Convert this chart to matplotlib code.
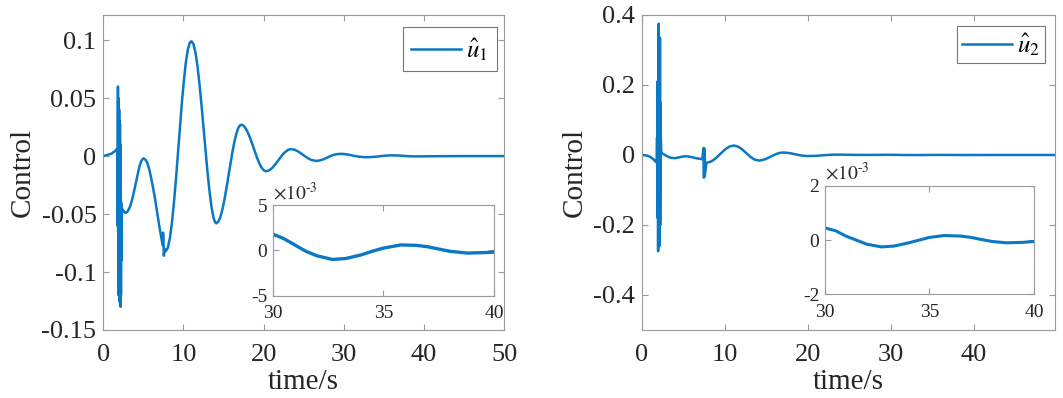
import numpy as np
import matplotlib
matplotlib.use('Agg')
import matplotlib.pyplot as plt

plt.rcParams['font.family'] = ['Liberation Serif', 'DejaVu Serif']
plt.rcParams['mathtext.fontset'] = 'stix'
plt.rcParams['axes.unicode_minus'] = False

line_color = '#0a78c2'
edge_color = '#9a9a9a'
text_color = '#262626'

# ---- control u1 ----
t1_pre = [0.0, 0.5, 1.0, 1.4, 1.7]
u1_pre = [0.0, 0.001, 0.002, 0.004, 0.006]
t1_spike = [1.750, 1.775, 1.800, 1.825, 1.850, 1.875, 1.900, 1.925, 1.950, 1.975, 2.000, 2.025,
            2.050, 2.075, 2.100, 2.125, 2.150, 2.175, 2.200, 2.225, 2.250, 2.275, 2.300]
u1_spike = [0.006, -0.060, 0.006, 0.060, -0.065, 0.050, -0.120, 0.045, -0.100, 0.040, -0.125, 0.030,
            -0.110, 0.028, -0.128, 0.010, -0.130, -0.020, -0.120, -0.040, -0.090, -0.045, -0.050]
t1_post = [2.4, 2.6, 2.8, 3.0, 3.25, 3.5, 3.75, 4.0, 4.25, 4.5, 4.75, 5.0, 5.25, 5.5, 5.75,
           6.0, 6.25, 6.5, 6.75, 7.0, 7.25, 7.4, 7.45, 7.5, 7.55, 7.65, 7.8,
           8.05, 8.3, 8.55, 8.8, 9.05, 9.3, 9.55, 9.8, 10.05, 10.3, 10.55, 10.8, 11.0,
           11.25, 11.5, 11.75, 12.0, 12.25, 12.5, 12.75, 13.0, 13.25, 13.5, 13.75, 13.95, 14.1,
           14.35, 14.6, 14.85, 15.1, 15.35, 15.6, 15.85, 16.1, 16.35, 16.6, 16.85, 17.05, 17.2,
           17.45, 17.7, 17.95, 18.2, 18.45, 18.7, 18.95, 19.2, 19.45, 19.7, 19.95, 20.15, 20.3,
           20.55, 20.8, 21.05, 21.3, 21.55, 21.8, 22.05, 22.3, 22.55, 22.8, 23.05, 23.4,
           23.9, 24.4, 24.9, 25.4, 25.9, 26.5, 27.0, 27.5, 28.0, 28.5, 29.0, 29.5,
           30.0, 30.5, 31.0, 31.5, 32.0, 32.7, 33.3, 34.0, 34.5, 35.0, 35.8, 36.5, 37.0,
           37.5, 38.0, 38.8, 39.5, 40.0, 42.0, 45.0, 50.0]
u1_post = [-0.046, -0.048, -0.049, -0.048, -0.045, -0.040, -0.033, -0.025, -0.017, -0.009,
           -0.004, -0.002, -0.003, -0.006, -0.012, -0.020, -0.029, -0.039, -0.050, -0.061,
           -0.071, -0.077, -0.066, -0.072, -0.086, -0.080, -0.082,
           -0.079, -0.071, -0.058, -0.041, -0.021, 0.001, 0.024, 0.046, 0.065, 0.081, 0.092,
           0.098, 0.099,
           0.0965, 0.0891, 0.0774, 0.0620, 0.0440, 0.0244, 0.0047, -0.0140, -0.0306, -0.0440,
           -0.0531, -0.0571, -0.058,
           -0.0566, -0.0526, -0.0463, -0.0380, -0.0282, -0.0176, -0.0070, 0.0032, 0.0122,
           0.0194, 0.0244, 0.0265, 0.027,
           0.0264, 0.0245, 0.0215, 0.0176, 0.0130, 0.0080, 0.0030, -0.0018, -0.0060, -0.0094,
           -0.0118, -0.0128, -0.013,
           -0.0127, -0.0118, -0.0104, -0.0085, -0.0063, -0.0040, -0.0016, 0.0007, 0.0027,
           0.0041, 0.0054, 0.006,
           0.0054, 0.0036, 0.0012, -0.0013, -0.0032, -0.0042, -0.0038, -0.0027, -0.0011,
           0.0005, 0.0015, 0.0019,
           0.0018, 0.0013, 0.0006, -0.0001, -0.0006, -0.0010, -0.0009, -0.0005, -0.0001,
           0.00025, 0.0006, 0.00055, 0.0004, 0.00015, -0.0001, -0.0003, -0.00025, -0.0002,
           -0.0001, 0.0, 0.0]

# ---- control u2 ----
t2_pre = [0.0, 0.5, 1.0, 1.4, 1.7]
u2_pre = [0.0, -0.001, -0.005, -0.012, -0.020]
t2_spike = [1.800, 1.850, 1.875, 1.900, 1.925, 1.950, 1.975, 2.000, 2.025, 2.050, 2.075,
            2.100, 2.125, 2.150, 2.175, 2.200, 2.225, 2.250, 2.275, 2.300, 2.350]
u2_spike = [-0.020, 0.050, -0.060, 0.210, -0.180, 0.100, -0.275, 0.200, -0.220, 0.375, -0.200,
            0.300, -0.260, 0.250, -0.240, 0.335, -0.200, 0.150, -0.100, 0.050, 0.010]
t2_post = [2.45, 3.0, 3.5, 4.0, 4.5, 5.0, 5.5, 6.0, 6.5, 7.0, 7.3, 7.45, 7.5, 7.55, 7.6,
           7.8, 8.2, 8.6, 9.0, 9.4, 9.8, 10.2, 10.6, 11.1, 11.6, 12.1, 12.6, 13.1, 13.6,
           14.1, 14.6, 15.1, 15.6, 16.1, 16.6, 17.0, 17.5, 18.0, 18.5, 19.0, 19.5, 20.0,
           21.0, 22.0, 23.0, 24.0, 25.0, 26.0, 28.0, 29.5,
           30.0, 30.5, 31.0, 31.5, 32.0, 32.7, 33.3, 34.0, 34.5, 35.0, 35.7, 36.5, 37.0,
           37.5, 38.0, 38.7, 39.5, 40.0, 43.0, 50.0]
u2_post = [0.005, -0.003, -0.008, -0.009, -0.007, -0.004, -0.004, -0.006, -0.009, -0.011,
           -0.012, 0.020, -0.065, 0.018, -0.060,
           -0.022, -0.0202, -0.0152, -0.0077, 0.0013, 0.0105, 0.0185, 0.0243, 0.027, 0.0241,
           0.0163, 0.0055, -0.0053, -0.0131,
           -0.016, -0.0144, -0.0100, -0.0040, 0.0017, 0.0059, 0.007, 0.0063, 0.0045, 0.0020,
           -0.0005, -0.0023, -0.003,
           -0.0025, -0.0005, 0.0008, 0.0010, 0.0005, 0.0002, 0.0002, 0.0005,
           0.00045, 0.00035, 0.00015, 0.0, -0.00015, -0.00025, -0.00022, -0.0001, 0.0,
           0.0001, 0.00017, 0.00015, 0.0001, 0.00002, -0.00005, -0.0001, -0.00008,
           -0.00005, 0.0, 0.0]

t1 = np.array(t1_pre + t1_spike + t1_post)
u1 = np.array(u1_pre + u1_spike + u1_post)
t2 = np.array(t2_pre + t2_spike + t2_post)
u2 = np.array(u2_pre + u2_spike + u2_post)


def style_axes(ax, size, xpad, ypad):
    for s in ax.spines.values():
        s.set_color(edge_color)
        s.set_linewidth(0.8)
    ax.tick_params(direction='in', top=True, right=True, colors=edge_color,
                   labelcolor=text_color, labelsize=size, length=4, width=0.8)
    ax.tick_params(axis='x', pad=xpad)
    ax.tick_params(axis='y', pad=ypad)


def add_legend(ax, anchor, pad):
    leg = ax.legend(loc='upper right', bbox_to_anchor=anchor, borderaxespad=0,
                    fontsize=18, handlelength=2.0, borderpad=pad,
                    handletextpad=0.2, fancybox=False)
    leg.get_frame().set_edgecolor('#555555')
    leg.get_frame().set_linewidth(0.8)


fig = plt.figure(figsize=(10.63, 3.98), dpi=100)

# left panel
ax1 = fig.add_axes([0.0972, 0.1709, 0.3770, 0.7915])
ax1.plot(t1, u1, color=line_color, linewidth=1.8, label=r'$\hat{u}_1$')
ax1.set_xlim(0, 50)
ax1.set_ylim(-0.15, 0.1217)
ax1.set_xticks([0, 10, 20, 30, 40, 50])
ax1.set_yticks([-0.15, -0.1, -0.05, 0, 0.05, 0.1])
ax1.set_yticklabels(['-0.15', '-0.1', '-0.05', '0', '0.05', '0.1'])
style_axes(ax1, 19, 10, 5)
ax1.set_xlabel('time/s', fontsize=21, color=text_color, labelpad=2)
ax1.set_ylabel('Control', fontsize=21, color=text_color, labelpad=4)
add_legend(ax1, (0.9825, 0.962), 0.35)

in1 = fig.add_axes([0.2565, 0.2570, 0.2082, 0.2279])
in1.plot(t1, u1 * 1e3, color=line_color, linewidth=2.4)
in1.set_xlim(30, 40)
in1.set_ylim(-5, 5)
in1.set_xticks([30, 35, 40])
in1.set_yticks([-5, 0, 5])
style_axes(in1, 14, 7, 4)
in1.text(0.0, 1.02, r'$\times10^{\text{-3}}$', transform=in1.transAxes, fontsize=14,
         color=text_color, ha='left', va='bottom')

# right panel
ax2 = fig.add_axes([0.6037, 0.1709, 0.3886, 0.7915])
ax2.plot(t2, u2, color=line_color, linewidth=1.8, label=r'$\hat{u}_2$')
ax2.set_xlim(0, 49.8)
ax2.set_ylim(-0.5, 0.4)
ax2.set_xticks([0, 10, 20, 30, 40])
ax2.set_yticks([-0.4, -0.2, 0, 0.2, 0.4])
ax2.set_yticklabels(['-0.4', '-0.2', '0', '0.2', '0.4'])
style_axes(ax2, 19, 10, 5)
ax2.set_xlabel('time/s', fontsize=21, color=text_color, labelpad=2)
ax2.set_ylabel('Control', fontsize=21, color=text_color, labelpad=4)
add_legend(ax2, (0.976, 0.965), 0.2)

in2 = fig.add_axes([0.7761, 0.2606, 0.1966, 0.2721])
in2.plot(t2, u2 * 1e3, color=line_color, linewidth=2.2)
in2.set_xlim(30, 40)
in2.set_ylim(-2, 2)
in2.set_xticks([30, 35, 40])
in2.set_yticks([-2, 0, 2])
style_axes(in2, 14, 7, 4)
in2.text(0.0, 1.02, r'$\times10^{\text{-3}}$', transform=in2.transAxes, fontsize=14,
         color=text_color, ha='left', va='bottom')

fig.savefig('out.png', dpi=100)
